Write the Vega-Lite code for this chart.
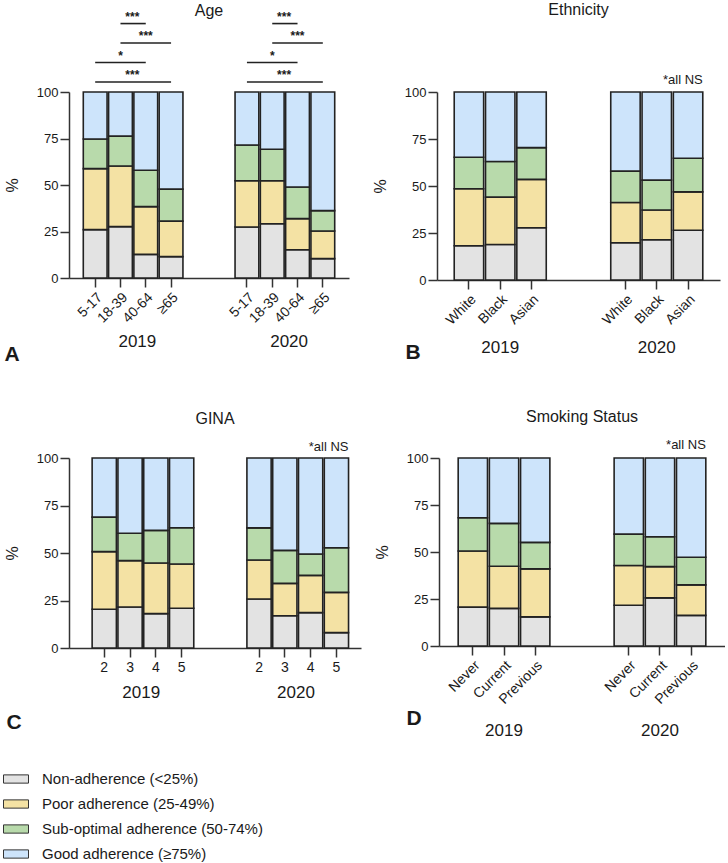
{
  "$schema": "https://vega.github.io/schema/vega-lite/v6.json",
  "padding": {"left": 3, "top": 2, "right": 0, "bottom": 0},
  "autosize": {"type": "pad"},
  "config": {
    "font": "Liberation Sans",
    "view": {"stroke": null},
    "axis": {"labelFont": "Liberation Sans", "titleFont": "Liberation Sans", "labelFontSize": 14, "labelColor": "#1a1a1a", "titleColor": "#1a1a1a", "domainColor": "#333", "tickColor": "#333", "domainWidth": 1.5, "tickWidth": 1.5, "tickSize": 9, "labelPadding": 2, "grid": false},
    "axisY": {"titleFontSize": 16, "titleFontWeight": "normal", "titlePadding": 16, "labelFontSize": 13},
    "axisX": {"titleFontSize": 21, "titleFontWeight": "bold", "titleAnchor": "start", "titleAlign": "left", "titleBaseline": "alphabetic", "labelPadding": 3},
    "title": {"fontSize": 16, "fontWeight": "normal", "font": "Liberation Sans", "color": "#1a1a1a"},
    "text": {"font": "Liberation Sans", "color": "#1a1a1a"},
    "legend": {"labelFont": "Liberation Sans", "labelFontSize": 15, "labelColor": "#1a1a1a", "labelOffset": 13, "rowPadding": 4, "labelLimit": 400, "symbolSize": 625, "symbolStrokeWidth": 1, "symbolStrokeColor": "#333"}
  },
  "datasets": {
    "levels": [
      {"level": "Non-adherence (<25%)", "rank": 1},
      {"level": "Poor adherence (25-49%)", "rank": 2},
      {"level": "Sub-optimal adherence (50-74%)", "rank": 3},
      {"level": "Good adherence (≥75%)", "rank": 4}
    ],
    "age": [
      {"year": "2019", "group": "5-17", "key": "2019|5-17", "Non-adherence (<25%)": 26.0, "Poor adherence (25-49%)": 32.8, "Sub-optimal adherence (50-74%)": 15.9, "Good adherence (≥75%)": 25.3},
      {"year": "2019", "group": "18-39", "key": "2019|18-39", "Non-adherence (<25%)": 27.6, "Poor adherence (25-49%)": 32.6, "Sub-optimal adherence (50-74%)": 16.1, "Good adherence (≥75%)": 23.7},
      {"year": "2019", "group": "40-64", "key": "2019|40-64", "Non-adherence (<25%)": 12.7, "Poor adherence (25-49%)": 25.7, "Sub-optimal adherence (50-74%)": 19.5, "Good adherence (≥75%)": 42.1},
      {"year": "2019", "group": "≥65", "key": "2019|≥65", "Non-adherence (<25%)": 11.5, "Poor adherence (25-49%)": 19.1, "Sub-optimal adherence (50-74%)": 17.2, "Good adherence (≥75%)": 52.2},
      {"year": "2020", "group": "5-17", "key": "2020|5-17", "Non-adherence (<25%)": 27.4, "Poor adherence (25-49%)": 24.9, "Sub-optimal adherence (50-74%)": 19.2, "Good adherence (≥75%)": 28.5},
      {"year": "2020", "group": "18-39", "key": "2020|18-39", "Non-adherence (<25%)": 29.2, "Poor adherence (25-49%)": 23.1, "Sub-optimal adherence (50-74%)": 16.9, "Good adherence (≥75%)": 30.8},
      {"year": "2020", "group": "40-64", "key": "2020|40-64", "Non-adherence (<25%)": 15.2, "Poor adherence (25-49%)": 16.7, "Sub-optimal adherence (50-74%)": 17.0, "Good adherence (≥75%)": 51.1},
      {"year": "2020", "group": "≥65", "key": "2020|≥65", "Non-adherence (<25%)": 10.4, "Poor adherence (25-49%)": 14.9, "Sub-optimal adherence (50-74%)": 10.9, "Good adherence (≥75%)": 63.8}
    ],
    "ageSig": [
      {"from": "2019|18-39", "to": "2019|40-64", "tier": 4, "sig": "***", "mid": "2019|18-39", "pos": "edge"},
      {"from": "2019|18-39", "to": "2019|≥65", "tier": 3, "sig": "***", "mid": "2019|40-64", "pos": "center"},
      {"from": "2019|5-17", "to": "2019|40-64", "tier": 2, "sig": "*", "mid": "2019|18-39", "pos": "center"},
      {"from": "2019|5-17", "to": "2019|≥65", "tier": 1, "sig": "***", "mid": "2019|18-39", "pos": "edge"},
      {"from": "2020|18-39", "to": "2020|40-64", "tier": 4, "sig": "***", "mid": "2020|18-39", "pos": "edge"},
      {"from": "2020|18-39", "to": "2020|≥65", "tier": 3, "sig": "***", "mid": "2020|40-64", "pos": "center"},
      {"from": "2020|5-17", "to": "2020|40-64", "tier": 2, "sig": "*", "mid": "2020|18-39", "pos": "center"},
      {"from": "2020|5-17", "to": "2020|≥65", "tier": 1, "sig": "***", "mid": "2020|18-39", "pos": "edge"}
    ],
    "eth": [
      {"year": "2019", "group": "White", "key": "2019|White", "Non-adherence (<25%)": 18.2, "Poor adherence (25-49%)": 30.3, "Sub-optimal adherence (50-74%)": 16.8, "Good adherence (≥75%)": 34.7},
      {"year": "2019", "group": "Black", "key": "2019|Black", "Non-adherence (<25%)": 18.9, "Poor adherence (25-49%)": 25.2, "Sub-optimal adherence (50-74%)": 18.9, "Good adherence (≥75%)": 37.0},
      {"year": "2019", "group": "Asian", "key": "2019|Asian", "Non-adherence (<25%)": 27.8, "Poor adherence (25-49%)": 25.7, "Sub-optimal adherence (50-74%)": 16.9, "Good adherence (≥75%)": 29.6},
      {"year": "2020", "group": "White", "key": "2020|White", "Non-adherence (<25%)": 19.8, "Poor adherence (25-49%)": 21.4, "Sub-optimal adherence (50-74%)": 16.7, "Good adherence (≥75%)": 42.1},
      {"year": "2020", "group": "Black", "key": "2020|Black", "Non-adherence (<25%)": 21.4, "Poor adherence (25-49%)": 15.8, "Sub-optimal adherence (50-74%)": 15.9, "Good adherence (≥75%)": 46.9},
      {"year": "2020", "group": "Asian", "key": "2020|Asian", "Non-adherence (<25%)": 26.5, "Poor adherence (25-49%)": 20.4, "Sub-optimal adherence (50-74%)": 17.9, "Good adherence (≥75%)": 35.2}
    ],
    "gina": [
      {"year": "2019", "group": "2", "key": "2019|2", "Non-adherence (<25%)": 20.4, "Poor adherence (25-49%)": 30.3, "Sub-optimal adherence (50-74%)": 18.2, "Good adherence (≥75%)": 31.1},
      {"year": "2019", "group": "3", "key": "2019|3", "Non-adherence (<25%)": 21.6, "Poor adherence (25-49%)": 24.4, "Sub-optimal adherence (50-74%)": 14.4, "Good adherence (≥75%)": 39.6},
      {"year": "2019", "group": "4", "key": "2019|4", "Non-adherence (<25%)": 18.1, "Poor adherence (25-49%)": 26.6, "Sub-optimal adherence (50-74%)": 17.2, "Good adherence (≥75%)": 38.1},
      {"year": "2019", "group": "5", "key": "2019|5", "Non-adherence (<25%)": 20.9, "Poor adherence (25-49%)": 23.3, "Sub-optimal adherence (50-74%)": 19.1, "Good adherence (≥75%)": 36.7},
      {"year": "2020", "group": "2", "key": "2020|2", "Non-adherence (<25%)": 25.8, "Poor adherence (25-49%)": 20.5, "Sub-optimal adherence (50-74%)": 16.9, "Good adherence (≥75%)": 36.8},
      {"year": "2020", "group": "3", "key": "2020|3", "Non-adherence (<25%)": 17.0, "Poor adherence (25-49%)": 17.0, "Sub-optimal adherence (50-74%)": 17.4, "Good adherence (≥75%)": 48.6},
      {"year": "2020", "group": "4", "key": "2020|4", "Non-adherence (<25%)": 18.6, "Poor adherence (25-49%)": 19.6, "Sub-optimal adherence (50-74%)": 11.3, "Good adherence (≥75%)": 50.5},
      {"year": "2020", "group": "5", "key": "2020|5", "Non-adherence (<25%)": 8.1, "Poor adherence (25-49%)": 21.2, "Sub-optimal adherence (50-74%)": 23.5, "Good adherence (≥75%)": 47.2}
    ],
    "smoke": [
      {"year": "2019", "group": "Never", "key": "2019|Never", "Non-adherence (<25%)": 20.7, "Poor adherence (25-49%)": 29.8, "Sub-optimal adherence (50-74%)": 17.7, "Good adherence (≥75%)": 31.8},
      {"year": "2019", "group": "Current", "key": "2019|Current", "Non-adherence (<25%)": 20.0, "Poor adherence (25-49%)": 22.4, "Sub-optimal adherence (50-74%)": 22.8, "Good adherence (≥75%)": 34.8},
      {"year": "2019", "group": "Previous", "key": "2019|Previous", "Non-adherence (<25%)": 15.5, "Poor adherence (25-49%)": 25.5, "Sub-optimal adherence (50-74%)": 14.1, "Good adherence (≥75%)": 44.9},
      {"year": "2020", "group": "Never", "key": "2020|Never", "Non-adherence (<25%)": 21.7, "Poor adherence (25-49%)": 21.1, "Sub-optimal adherence (50-74%)": 16.7, "Good adherence (≥75%)": 40.5},
      {"year": "2020", "group": "Current", "key": "2020|Current", "Non-adherence (<25%)": 25.6, "Poor adherence (25-49%)": 16.6, "Sub-optimal adherence (50-74%)": 15.9, "Good adherence (≥75%)": 41.9},
      {"year": "2020", "group": "Previous", "key": "2020|Previous", "Non-adherence (<25%)": 16.3, "Poor adherence (25-49%)": 16.2, "Sub-optimal adherence (50-74%)": 14.7, "Good adherence (≥75%)": 52.8}
    ]
  },
  "vconcat": [
    {
      "spacing": 23,
      "hconcat": [
        {
          "width": 280, "height": 186,
          "title": {"text": "Age", "offset": -8},
          "layer": [
            {
              "layer": [
                {
                  "data": {"name": "age"},
                  "transform": [
                    {"fold": ["Non-adherence (<25%)", "Poor adherence (25-49%)", "Sub-optimal adherence (50-74%)", "Good adherence (≥75%)"], "as": ["level", "pct"]},
                    {"lookup": "level", "from": {"data": {"name": "levels"}, "key": "level", "fields": ["rank"]}}
                  ],
                  "mark": {"type": "bar", "stroke": "#222", "strokeWidth": 1.6},
                  "encoding": {
                    "x": {"field": "key", "type": "nominal", "sort": null,
                      "scale": {"domain": ["2019|5-17", "2019|18-39", "2019|40-64", "2019|≥65", "gapA", "gapB", "2020|5-17", "2020|18-39", "2020|40-64", "2020|≥65"], "paddingInner": 0.06, "paddingOuter": 0.565},
                      "axis": {"values": ["2019|5-17", "2019|18-39", "2019|40-64", "2019|≥65", "2020|5-17", "2020|18-39", "2020|40-64", "2020|≥65"], "labelExpr": "split(datum.label, '|')[1]", "labelAngle": -45, "title": "A", "titleX": -65, "titleY": 82}},
                    "y": {"field": "pct", "type": "quantitative", "stack": "zero", "scale": {"domain": [0, 100], "nice": false}, "axis": {"title": "%", "values": [0, 25, 50, 75, 100]}},
                    "order": {"field": "rank", "type": "quantitative", "sort": "ascending"},
                    "color": {"field": "level", "type": "nominal",
                      "scale": {"domain": ["Non-adherence (<25%)", "Poor adherence (25-49%)", "Sub-optimal adherence (50-74%)", "Good adherence (≥75%)"], "range": ["#e3e3e3", "#f4e2a4", "#b8daab", "#cde4fb"]},
                      "legend": {"title": null, "orient": "none", "legendX": -66, "legendY": 674, "direction": "vertical", "symbolType": "M-1,-0.33L1,-0.33L1,0.33L-1,0.33Z", "symbolSize": 625, "symbolStrokeWidth": 1, "symbolStrokeColor": "#333", "labelFontSize": 15, "labelOffset": 13, "rowPadding": 4, "labelColor": "#1a1a1a", "labelLimit": 400, "labelFont": "Liberation Sans"}}
                  }
                },
                {
                  "data": {"values": [{"year": "2019", "anchor": "2019|18-39"}, {"year": "2020", "anchor": "2020|18-39"}]},
                  "mark": {"type": "text", "fontSize": 17, "dy": 64, "dx": 5, "baseline": "middle"},
                  "encoding": {
                    "x": {"field": "anchor", "type": "nominal", "bandPosition": 1},
                    "y": {"datum": 0},
                    "text": {"field": "year"}
                  }
                }
              ]
            },
            {
              "data": {"name": "ageSig"},
              "layer": [
                {
                  "mark": {"type": "rule", "stroke": "#222", "strokeWidth": 1.6},
                  "encoding": {
                    "x": {"field": "from", "type": "nominal"},
                    "x2": {"field": "to"},
                    "y": {"field": "tier", "type": "quantitative", "scale": {"domain": [-9.05, 0.49], "nice": false, "zero": false}, "axis": null}
                  }
                },
                {
                  "transform": [{"filter": "datum.pos == 'edge'"}],
                  "mark": {"type": "text", "fontSize": 12, "fontWeight": "bold", "baseline": "alphabetic", "dy": -3},
                  "encoding": {
                    "x": {"field": "mid", "type": "nominal", "bandPosition": 1},
                    "y": {"field": "tier", "type": "quantitative", "axis": null},
                    "text": {"field": "sig"}
                  }
                },
                {
                  "transform": [{"filter": "datum.pos == 'center'"}],
                  "mark": {"type": "text", "fontSize": 12, "fontWeight": "bold", "baseline": "alphabetic", "dy": -3},
                  "encoding": {
                    "x": {"field": "mid", "type": "nominal", "bandPosition": 0.5},
                    "y": {"field": "tier", "type": "quantitative", "axis": null},
                    "text": {"field": "sig"}
                  }
                }
              ]
            }
          ],
          "resolve": {"scale": {"y": "independent"}}
        },
        {
          "width": 283, "height": 188,
          "title": {"text": "Ethnicity", "offset": 56},
          "layer": [
            {
              "data": {"name": "eth"},
              "transform": [
                {"fold": ["Non-adherence (<25%)", "Poor adherence (25-49%)", "Sub-optimal adherence (50-74%)", "Good adherence (≥75%)"], "as": ["level", "pct"]},
                {"lookup": "level", "from": {"data": {"name": "levels"}, "key": "level", "fields": ["rank"]}}
              ],
              "mark": {"type": "bar", "stroke": "#222", "strokeWidth": 1.6},
              "encoding": {
                "x": {"field": "key", "type": "nominal", "sort": null,
                  "scale": {"domain": ["2019|White", "2019|Black", "2019|Asian", "gapA", "gapB", "2020|White", "2020|Black", "2020|Asian"], "paddingInner": 0.06, "paddingOuter": 0.55},
                  "axis": {"values": ["2019|White", "2019|Black", "2019|Asian", "2020|White", "2020|Black", "2020|Asian"], "labelExpr": "split(datum.label, '|')[1]", "labelAngle": -45, "title": "B", "titleX": -32, "titleY": 78}},
                "y": {"field": "pct", "type": "quantitative", "stack": "zero", "scale": {"domain": [0, 100], "nice": false}, "axis": {"title": "%", "values": [0, 25, 50, 75, 100]}},
                "order": {"field": "rank", "type": "quantitative", "sort": "ascending"},
                "color": {"field": "level", "type": "nominal",
                  "scale": {"domain": ["Non-adherence (<25%)", "Poor adherence (25-49%)", "Sub-optimal adherence (50-74%)", "Good adherence (≥75%)"], "range": ["#e3e3e3", "#f4e2a4", "#b8daab", "#cde4fb"]},
                  "legend": {"title": null, "orient": "none", "legendX": -66, "legendY": 674, "direction": "vertical", "symbolType": "M-1,-0.33L1,-0.33L1,0.33L-1,0.33Z", "symbolSize": 625, "symbolStrokeWidth": 1, "symbolStrokeColor": "#333", "labelFontSize": 15, "labelOffset": 13, "rowPadding": 4, "labelColor": "#1a1a1a", "labelLimit": 400, "labelFont": "Liberation Sans"}}
              }
            },
            {
              "data": {"values": [{"year": "2019", "anchor": "2019|Black"}, {"year": "2020", "anchor": "2020|Black"}]},
              "mark": {"type": "text", "fontSize": 17, "dy": 68, "baseline": "middle"},
              "encoding": {
                "x": {"field": "anchor", "type": "nominal", "bandPosition": 0.5},
                "y": {"datum": 0},
                "text": {"field": "year"}
              }
            },
            {
              "data": {"values": [{"note": "*all NS", "anchor": "2020|Asian"}]},
              "mark": {"type": "text", "fontSize": 13, "align": "right", "baseline": "alphabetic", "dy": -8},
              "encoding": {
                "x": {"field": "anchor", "type": "nominal", "bandPosition": 1},
                "y": {"datum": 100},
                "text": {"field": "note"}
              }
            }
          ]
        }
      ]
    },
    {
      "spacing": 13,
      "hconcat": [
        {
          "width": 292, "height": 190,
          "title": {"text": "GINA", "offset": 14},
          "layer": [
            {
              "data": {"name": "gina"},
              "transform": [
                {"fold": ["Non-adherence (<25%)", "Poor adherence (25-49%)", "Sub-optimal adherence (50-74%)", "Good adherence (≥75%)"], "as": ["level", "pct"]},
                {"lookup": "level", "from": {"data": {"name": "levels"}, "key": "level", "fields": ["rank"]}}
              ],
              "mark": {"type": "bar", "stroke": "#222", "strokeWidth": 1.6},
              "encoding": {
                "x": {"field": "key", "type": "nominal", "sort": null,
                  "scale": {"domain": ["2019|2", "2019|3", "2019|4", "2019|5", "gapA", "gapB", "2020|2", "2020|3", "2020|4", "2020|5"], "paddingInner": 0.06, "paddingOuter": 0.69, "align": 0.65},
                  "axis": {"values": ["2019|2", "2019|3", "2019|4", "2019|5", "2020|2", "2020|3", "2020|4", "2020|5"], "labelExpr": "split(datum.label, '|')[1]", "labelAngle": 0, "title": "C", "titleX": -63, "titleY": 80}},
                "y": {"field": "pct", "type": "quantitative", "stack": "zero", "scale": {"domain": [0, 100], "nice": false}, "axis": {"title": "%", "values": [0, 25, 50, 75, 100]}},
                "order": {"field": "rank", "type": "quantitative", "sort": "ascending"},
                "color": {"field": "level", "type": "nominal",
                  "scale": {"domain": ["Non-adherence (<25%)", "Poor adherence (25-49%)", "Sub-optimal adherence (50-74%)", "Good adherence (≥75%)"], "range": ["#e3e3e3", "#f4e2a4", "#b8daab", "#cde4fb"]},
                  "legend": {"title": null, "orient": "none", "legendX": -66, "legendY": 674, "direction": "vertical", "symbolType": "M-1,-0.33L1,-0.33L1,0.33L-1,0.33Z", "symbolSize": 625, "symbolStrokeWidth": 1, "symbolStrokeColor": "#333", "labelFontSize": 15, "labelOffset": 13, "rowPadding": 4, "labelColor": "#1a1a1a", "labelLimit": 400, "labelFont": "Liberation Sans"}}
              }
            },
            {
              "data": {"values": [{"year": "2019", "anchor": "2019|3"}, {"year": "2020", "anchor": "2020|3"}]},
              "mark": {"type": "text", "fontSize": 17, "dy": 45, "dx": -1, "baseline": "middle"},
              "encoding": {
                "x": {"field": "anchor", "type": "nominal", "bandPosition": 1},
                "y": {"datum": 0},
                "text": {"field": "year"}
              }
            },
            {
              "data": {"values": [{"note": "*all NS", "anchor": "2020|5"}]},
              "mark": {"type": "text", "fontSize": 13, "align": "right", "baseline": "alphabetic", "dy": -7},
              "encoding": {
                "x": {"field": "anchor", "type": "nominal", "bandPosition": 1},
                "y": {"datum": 100},
                "text": {"field": "note"}
              }
            }
          ]
        },
        {
          "width": 286, "height": 188,
          "title": {"text": "Smoking Status", "offset": 14},
          "layer": [
            {
              "data": {"name": "smoke"},
              "transform": [
                {"fold": ["Non-adherence (<25%)", "Poor adherence (25-49%)", "Sub-optimal adherence (50-74%)", "Good adherence (≥75%)"], "as": ["level", "pct"]},
                {"lookup": "level", "from": {"data": {"name": "levels"}, "key": "level", "fields": ["rank"]}}
              ],
              "mark": {"type": "bar", "stroke": "#222", "strokeWidth": 1.6},
              "encoding": {
                "x": {"field": "key", "type": "nominal", "sort": null,
                  "scale": {"domain": ["2019|Never", "2019|Current", "2019|Previous", "gapA", "gapB", "2020|Never", "2020|Current", "2020|Previous"], "paddingInner": 0.06, "paddingOuter": 0.615},
                  "axis": {"values": ["2019|Never", "2019|Current", "2019|Previous", "2020|Never", "2020|Current", "2020|Previous"], "labelExpr": "split(datum.label, '|')[1]", "labelAngle": -45, "title": "D", "titleX": -33, "titleY": 78}},
                "y": {"field": "pct", "type": "quantitative", "stack": "zero", "scale": {"domain": [0, 100], "nice": false}, "axis": {"title": "%", "values": [0, 25, 50, 75, 100]}},
                "order": {"field": "rank", "type": "quantitative", "sort": "ascending"},
                "color": {"field": "level", "type": "nominal",
                  "scale": {"domain": ["Non-adherence (<25%)", "Poor adherence (25-49%)", "Sub-optimal adherence (50-74%)", "Good adherence (≥75%)"], "range": ["#e3e3e3", "#f4e2a4", "#b8daab", "#cde4fb"]},
                  "legend": {"title": null, "orient": "none", "legendX": -66, "legendY": 674, "direction": "vertical", "symbolType": "M-1,-0.33L1,-0.33L1,0.33L-1,0.33Z", "symbolSize": 625, "symbolStrokeWidth": 1, "symbolStrokeColor": "#333", "labelFontSize": 15, "labelOffset": 13, "rowPadding": 4, "labelColor": "#1a1a1a", "labelLimit": 400, "labelFont": "Liberation Sans"}}
              }
            },
            {
              "data": {"values": [{"year": "2019", "anchor": "2019|Current"}, {"year": "2020", "anchor": "2020|Current"}]},
              "mark": {"type": "text", "fontSize": 17, "dy": 85, "baseline": "middle"},
              "encoding": {
                "x": {"field": "anchor", "type": "nominal", "bandPosition": 0.5},
                "y": {"datum": 0},
                "text": {"field": "year"}
              }
            },
            {
              "data": {"values": [{"note": "*all NS", "anchor": "2020|Previous"}]},
              "mark": {"type": "text", "fontSize": 13, "align": "right", "baseline": "alphabetic", "dy": -9},
              "encoding": {
                "x": {"field": "anchor", "type": "nominal", "bandPosition": 1},
                "y": {"datum": 100},
                "text": {"field": "note"}
              }
            }
          ]
        }
      ]
    }
  ],
  "spacing": 45,
  "resolve": {"scale": {"color": "shared"}, "legend": {"color": "shared"}}
}
